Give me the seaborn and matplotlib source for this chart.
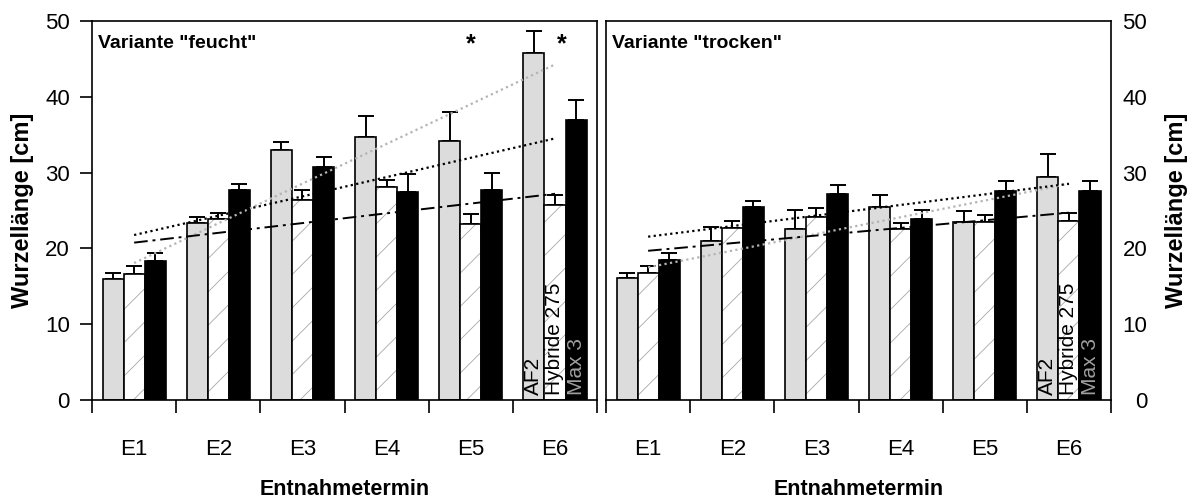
import numpy as np
import pandas as pd
import matplotlib
matplotlib.use("Agg")
import matplotlib.pyplot as plt
from matplotlib.colors import to_rgba
import seaborn as sns

termine = ["E1", "E2", "E3", "E4", "E5", "E6"]
sorten = ["AF2", "Hybride 275", "Max 3"]

# Variante "feucht"
feucht_af2 = [16.0, 23.3, 33.0, 34.7, 34.2, 45.8]
feucht_af2_err = [0.7, 0.9, 1.0, 2.8, 3.8, 2.9]
feucht_hyb = [16.6, 23.9, 26.4, 28.1, 23.2, 25.7]
feucht_hyb_err = [1.1, 0.8, 1.3, 0.9, 1.3, 1.4]
feucht_max = [18.4, 27.7, 30.7, 27.4, 27.7, 36.9]
feucht_max_err = [1.0, 0.8, 1.3, 2.4, 2.3, 2.7]

# Variante "trocken"
trocken_af2 = [16.05, 21.0, 22.6, 25.5, 23.5, 29.4]
trocken_af2_err = [0.75, 1.8, 2.5, 1.6, 1.4, 3.1]
trocken_hyb = [16.7, 22.7, 24.2, 22.5, 23.5, 23.6]
trocken_hyb_err = [1.0, 0.9, 1.1, 0.9, 0.9, 1.1]
trocken_max = [18.5, 25.4, 27.2, 23.9, 27.6, 27.6]
trocken_max_err = [0.9, 0.9, 1.1, 1.2, 1.3, 1.3]

yticks = [0, 10, 20, 30, 40, 50]

sns.set_style("white")
plt.rcParams["font.family"] = ["Liberation Sans", "DejaVu Sans"]
plt.rcParams["text.color"] = "black"
plt.rcParams["axes.labelcolor"] = "black"
plt.rcParams["xtick.color"] = "black"
plt.rcParams["ytick.color"] = "black"
plt.rcParams["hatch.color"] = "#a8a8a8"
plt.rcParams["hatch.linewidth"] = 0.6

fig = plt.figure(figsize=(11.97, 5.01), dpi=100)
ax1 = fig.add_axes([0.0769, 0.2016, 0.4219, 0.7565])
ax2 = fig.add_axes([0.5063, 0.2016, 0.4219, 0.7565])

fills = {"AF2": "#dcdcdc", "Hybride 275": "white", "Max 3": "black"}
trend_styles = {
    "AF2": dict(color="#b4b4b4", linestyle=(0, (1, 1.5)), linewidth=1.6),
    "Hybride 275": dict(color="black", linestyle=(0, (7, 2.5, 1.5, 2.5)), linewidth=1.4),
    "Max 3": dict(color="black", linestyle=(0, (1, 1.5)), linewidth=1.6),
}


def set_hatch_gray(p):
    p.set_hatch("/")
    if hasattr(p, "set_hatchcolor"):
        p.set_hatchcolor("#a8a8a8")
    else:
        p._hatch_color = to_rgba("#a8a8a8")


def panel(ax, vals, errs, title, stars):
    df = pd.DataFrame({
        "Termin": np.repeat([termine], 3, axis=0).ravel(),
        "Sorte": np.repeat(sorten, len(termine)),
        "Wert": np.concatenate(vals),
    })
    sns.barplot(data=df, x="Termin", y="Wert", hue="Sorte", order=termine,
                hue_order=sorten, palette=fills, width=0.75, gap=0,
                errorbar=None, edgecolor="black", linewidth=1.2,
                legend=False, ax=ax, zorder=2)
    for i, (cont, s) in enumerate(zip(ax.containers, sorten)):
        xs = [p.get_x() + p.get_width() / 2 for p in cont.patches]
        hs = [p.get_height() for p in cont.patches]
        if s == "Hybride 275":
            for p in cont.patches:
                set_hatch_gray(p)
        ax.errorbar(xs, hs, yerr=[np.zeros(len(hs)), errs[i]], fmt="none",
                    ecolor="black", elinewidth=1.4, capsize=5.5, capthick=1.4,
                    zorder=1)
        col = "#a0a0a0" if s == "Max 3" else "black"
        ax.text(xs[-1], 0.6, s, rotation=90, ha="center", va="bottom",
                fontsize=15, color=col, zorder=5)
    xpos = np.arange(len(termine))
    for i, s in enumerate(sorten):
        sns.regplot(x=xpos, y=np.asarray(vals[i]), scatter=False, ci=None,
                    ax=ax, line_kws=dict(zorder=4, **trend_styles[s]))
    for xs_ in stars:
        ax.text(xs_, 46.9, "*", ha="center", va="center", fontsize=18,
                fontweight="bold")
    ax.text(0.012, 0.962, title, transform=ax.transAxes, ha="left", va="top",
            fontsize=14, fontweight="bold")
    ax.set_xlim(-0.5, 5.5)
    ax.set_ylim(0, 50)
    ax.set_xticks(np.arange(-0.5, 6, 1.0))
    ax.set_xticklabels([])
    ax.set_xticks(xpos, minor=True)
    ax.set_xticklabels(termine, minor=True, fontsize=16)
    ax.tick_params(axis="x", which="major", direction="out", length=9,
                   width=1.2, color="black", bottom=True)
    ax.tick_params(axis="x", which="minor", length=0, pad=28)
    ax.set_xlabel("Entnahmetermin", fontsize=15.5, fontweight="bold",
                  labelpad=14)
    for sp in ax.spines.values():
        sp.set_visible(True)
        sp.set_color("black")
        sp.set_linewidth(1.2)


panel(ax1, [feucht_af2, feucht_hyb, feucht_max],
      [feucht_af2_err, feucht_hyb_err, feucht_max_err],
      'Variante "feucht"', [4.0, 5.08])
panel(ax2, [trocken_af2, trocken_hyb, trocken_max],
      [trocken_af2_err, trocken_hyb_err, trocken_max_err],
      'Variante "trocken"', [])

ax1.set_yticks(yticks, labels=[str(t) for t in yticks], fontsize=16)
ax1.tick_params(axis="y", direction="out", length=9, width=1.2,
                color="black", left=True, pad=7)
ax1.set_ylabel("Wurzellänge [cm]", fontsize=17, fontweight="bold", labelpad=8)

ax2.yaxis.tick_right()
ax2.set_yticks(yticks, labels=[str(t) for t in yticks], fontsize=16, ha="right")
ax2.tick_params(axis="y", length=0, pad=26, right=True, left=False)
ax2.yaxis.set_label_position("right")
ax2.set_ylabel("Wurzellänge [cm]", fontsize=17, fontweight="bold",
               labelpad=13, rotation=90)

fig.savefig("out.png", dpi=100)
